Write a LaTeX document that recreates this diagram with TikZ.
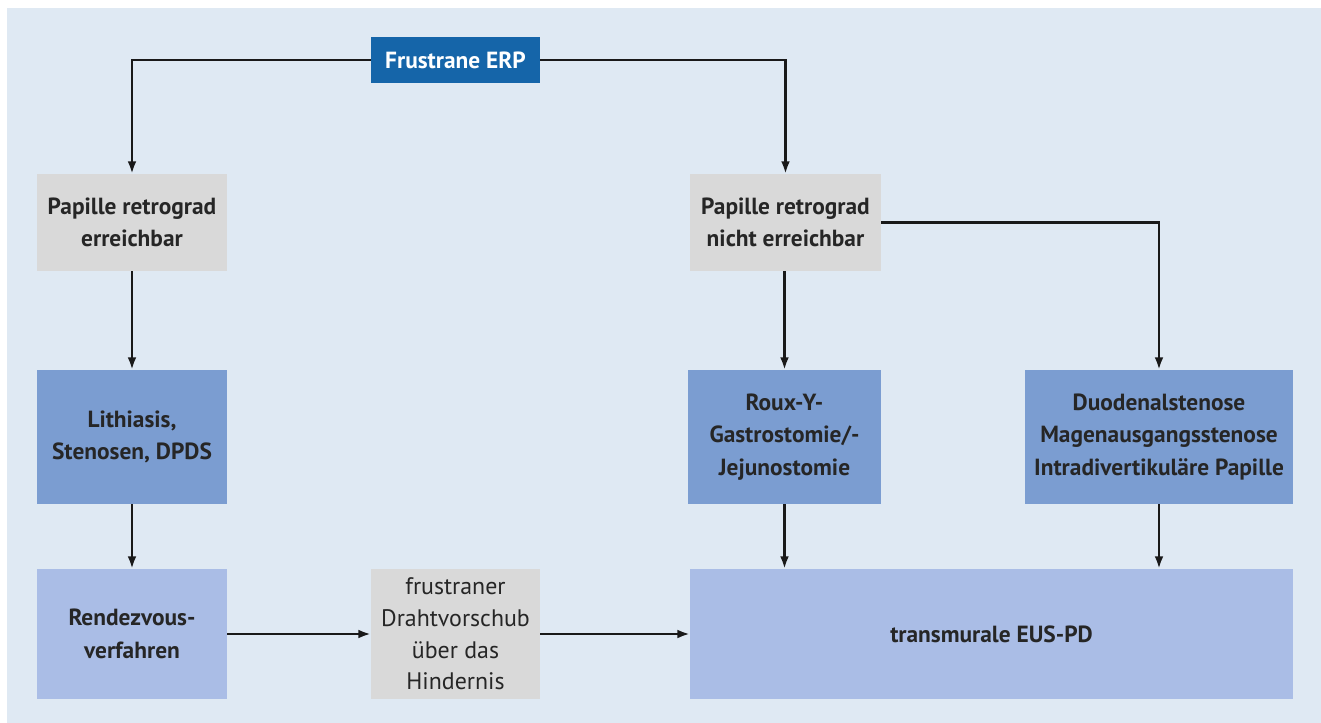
\documentclass[tikz,border=0pt]{standalone}
\usepackage{fontspec}
\setmainfont{PT Sans}
\usetikzlibrary{positioning, arrows.meta, calc}
\definecolor{bgblue}{HTML}{DFE9F3}
\definecolor{erpblue}{HTML}{1565A9}
\definecolor{boxgray}{HTML}{D9D9D9}
\definecolor{midblue}{HTML}{7B9DD1}
\definecolor{lightblue}{HTML}{AABDE6}
\tikzset{
    box/.style={ % Sets the properties for each box
        rectangle,
        inner sep=0pt,
        align=center,
        font=\bfseries\fontsize{13.3}{18.5}\selectfont
    },
    graybox/.style={box, fill=boxgray, text=black!85},
    midbox/.style={box, fill=midblue, text=black!85},
    lightbox/.style={box, fill=lightblue, text=black!85},
    flow/.style={ % Sets the properties for each connector
        draw,
        -{Latex[length=7pt,width=5pt]},
        line width=1.3pt,
        black!90
    },
}

\begin{document}
\begin{tikzpicture}[x=0.02cm, y=-0.02cm]
    \useasboundingbox (0,0) rectangle (1321,723);
    \fill[bgblue] (7,8) rectangle (1321,723);
    \node[box, fill=erpblue, text=white, minimum width=3.38cm, minimum height=0.92cm]
                                                        (erp)   at (455.5,60)   {Frustrane ERP};
    \node[graybox, minimum width=3.8cm, minimum height=1.94cm]  (pl)    at (132,222.5)  {Papille retrograd\\erreichbar};
    \node[graybox, minimum width=3.82cm, minimum height=1.94cm] (pr)    at (785.5,222.5) {Papille retrograd\\nicht erreichbar};
    \node[midbox, minimum width=3.8cm, minimum height=2.68cm]   (lith)  at (132,437)    {Lithiasis,\\Stenosen, DPDS};
    \node[midbox, minimum width=3.86cm, minimum height=2.68cm]  (roux)  at (784.5,437)  {Roux-Y-\\Gastrostomie/-\\Jejunostomie};
    \node[midbox, minimum width=5.36cm, minimum height=2.68cm]  (duo)   at (1159,437)   {Duodenalstenose\\Magenausgangsstenose\\Intradivertikuläre Papille};
    \node[lightbox, minimum width=3.8cm, minimum height=2.6cm]  (rdv)   at (132,634)    {Rendezvous-\\verfahren};
    \node[graybox, font=\fontsize{13.6}{18}\selectfont, minimum width=3.38cm, minimum height=2.6cm]
                                                        (draht) at (455.5,634)  {frustraner\\Drahtvorschub\\über das\\Hindernis};
    \node[lightbox, minimum width=12.06cm, minimum height=2.6cm] (eus)  at (991.5,634)  {transmurale EUS-PD};
    \draw[flow] (erp.west) -| (pl.north);
    \draw[flow] (erp.east) -| (pr.north);
    \draw[flow] (pl) -- (lith);
    \draw[flow] (lith) -- (rdv);
    \draw[flow] (rdv) -- (draht);
    \draw[flow] (draht) -- (eus);
    \draw[flow] (pr.south -| roux.north) -- (roux.north);
    \draw[flow] (pr.east) -| (duo.north);
    \draw[flow] (roux.south) -- (roux.south |- eus.north);
    \draw[flow] (duo.south) -- (duo.south |- eus.north);
\end{tikzpicture}
\end{document}
